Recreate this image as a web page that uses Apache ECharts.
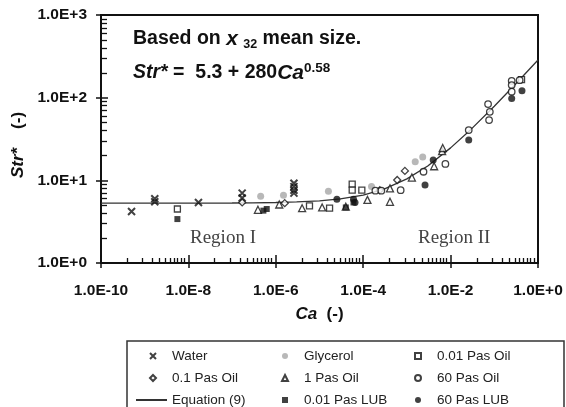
<!DOCTYPE html>
<html><head><meta charset="utf-8">
<script src="https://cdn.jsdelivr.net/npm/echarts@6/dist/echarts.min.js"></script>
<style>html,body{margin:0;padding:0;background:#fff}#c{width:566px;height:407px}</style>
</head><body><div id="c"></div>
<script>
// ---- tick values / labels ----
const xTickValues = [1e-10, 1e-8, 1e-6, 1e-4, 1e-2, 1];
const xTickLabels = ['1.0E-10', '1.0E-8', '1.0E-6', '1.0E-4', '1.0E-2', '1.0E+0'];
const xMinorMultipliers = [4, 9, 15, 22, 30, 38, 47, 57, 68, 80];
const yTickValues = [1, 10, 100, 1000];
const yTickLabels = ['1.0E+0', '1.0E+1', '1.0E+2', '1.0E+3'];
const yMinorMultipliers = [2, 3, 4, 5, 6, 7, 8, 9];

// ---- data: [Ca, Str*] ----
const water = [[5e-10, 4.2], [1.7e-9, 5.5], [1.7e-9, 6.0], [1.7e-8, 5.4], [1.7e-7, 7.0], [1.7e-7, 6.1],
  [2.6e-6, 9.2], [2.6e-6, 8.4], [2.6e-6, 7.6], [2.6e-6, 7.0]];
const glycerol = [[4.5e-7, 6.4], [1.5e-6, 6.6], [1.6e-5, 7.4], [1.55e-4, 8.4], [1.55e-3, 16.8], [2.3e-3, 19.2]];
const oil001 = [[5.6e-9, 4.5], [5.9e-6, 4.9], [1.7e-5, 4.6], [5.6e-5, 9.0], [5.6e-5, 7.6], [9.3e-5, 7.6], [0.42, 165]];
const oil01 = [[1.7e-7, 5.4], [1.6e-6, 5.3], [2.4e-4, 7.6], [6e-4, 10.1], [9e-4, 13.0]];
const oil1 = [[3.9e-7, 4.4], [1.2e-6, 5.1], [4e-6, 4.6], [1.15e-5, 4.7], [4e-5, 4.8], [1.25e-4, 5.8],
  [4.1e-4, 5.5], [4.1e-4, 8.0], [1.3e-3, 10.8], [4.2e-3, 14.8], [6.4e-3, 22.5], [6.6e-3, 24.6]];
const oil60 = [[1.9e-4, 7.5], [2.6e-4, 7.5], [7.2e-4, 7.6], [2.4e-3, 12.7], [7.6e-3, 15.8], [0.026, 40.6],
  [0.072, 83.7], [0.079, 67.5], [0.076, 53.6], [0.25, 160], [0.25, 142], [0.25, 118], [0.38, 163]];
const lub001 = [[5.6e-9, 3.4], [5.2e-7, 4.3], [6.2e-7, 4.5], [4e-5, 4.7], [6e-5, 5.4]];
const lub60 = [[2.5e-5, 5.9], [6e-5, 5.9], [6.5e-5, 5.4], [2.6e-3, 8.8], [4e-3, 17.6], [0.026, 30.7], [0.25, 98], [0.43, 121]];
const eqCa = [1e-10, 1e-8, 1e-7, 3e-7, 1e-6, 3e-6, 1e-5, 3e-5, 1e-4, 3e-4, 1e-3, 3e-3, 1e-2, 3e-2, 1e-1, 3e-1, 1];
const eqStr = [5.30, 5.31, 5.32, 5.35, 5.39, 5.48, 5.65, 5.97, 6.64, 7.84, 10.4, 14.9, 24.7, 41.9, 78.9, 144.5, 285];
const regionBoundaryCa = 1e-4;

const xMinor = [];
for (let i = 0; i < xTickValues.length - 1; i++) xMinorMultipliers.forEach(m => xMinor.push(xTickValues[i] * m));
const yMinor = [];
for (let i = 0; i < yTickValues.length - 1; i++) yMinorMultipliers.forEach(m => yMinor.push(yTickValues[i] * m));

const FONT = 'Liberation Sans';
const INK = '#111';
const openStyle = { color: '#fff', borderColor: INK, borderWidth: 1.3 };
const fillStyle = { color: INK };

function scatter(name, data, symbol, size, style) {
  return { type: 'scatter', name, data, symbol, symbolSize: size, itemStyle: style, z: 4, animation: false };
}
function xAx(extra) {
  return Object.assign({ type: 'log', logBase: 10, min: 1e-10, max: 1, position: 'bottom', gridIndex: 0,
    splitLine: { show: false }, minorTick: { show: false }, axisLabel: { show: false },
    axisLine: { show: false } }, extra);
}
function yAx(extra) {
  return Object.assign({ type: 'log', logBase: 10, min: 1, max: 1000, position: 'left', gridIndex: 0,
    splitLine: { show: false }, minorTick: { show: false }, axisLabel: { show: false },
    axisLine: { show: false } }, extra);
}
const legendBase = { orient: 'vertical', itemWidth: 6, itemHeight: 6, itemGap: 6, padding: 0, height: 80,
  selectedMode: false, textStyle: { fontFamily: FONT, fontSize: 13.5, color: '#222', lineHeight: 16, padding: [0, 0, 0, 11] } };

const chart = echarts.init(document.getElementById('c'), null, { renderer: 'canvas' });
chart.setOption({
  animation: false,
  backgroundColor: '#fff',
  grid: { left: 101, right: 28, top: 15, bottom: 144, show: true, borderColor: INK, borderWidth: 2, containLabel: false },
  title: [
    { text: 'Based on {x|x} {s|32} mean size.', left: 128, top: 22,
      textStyle: { fontFamily: FONT, fontSize: 19.5, fontWeight: 'bold', color: INK, lineHeight: 24,
        rich: { x: { fontFamily: FONT, fontSize: 21, fontStyle: 'italic', fontWeight: 'bold', color: INK, lineHeight: 24 },
                s: { fontFamily: FONT, fontSize: 12.5, fontWeight: 'bold', color: INK, lineHeight: 24, verticalAlign: 'bottom' } } } },
    { text: '{i|Str*} =  5.3 + 280{c|Ca}{p|0.58}', left: 128, top: 56,
      textStyle: { fontFamily: FONT, fontSize: 19.5, fontWeight: 'bold', color: INK, lineHeight: 24,
        rich: { i: { fontFamily: FONT, fontSize: 19.5, fontStyle: 'italic', fontWeight: 'bold', color: INK, lineHeight: 24 },
                c: { fontFamily: FONT, fontSize: 21, fontStyle: 'italic', fontWeight: 'bold', color: INK, lineHeight: 24 },
                p: { fontFamily: FONT, fontSize: 13.5, fontWeight: 'bold', color: INK, lineHeight: 24, verticalAlign: 'top' } } } },
    { text: 'Region I', left: 185, top: 224, textStyle: { fontFamily: 'Liberation Serif', fontSize: 19, fontWeight: 'normal', color: '#444' } },
    { text: 'Region II', left: 413, top: 224, textStyle: { fontFamily: 'Liberation Serif', fontSize: 19, fontWeight: 'normal', color: '#444' } }
  ],
  xAxis: [
    xAx({ axisLine: { show: true, lineStyle: { color: INK, width: 2 } },
      axisTick: { show: true, inside: false, length: 5, lineStyle: { color: INK, width: 1.5 }, customValues: xTickValues },
      axisLabel: { show: true, customValues: xTickValues, margin: 20, fontFamily: FONT, fontSize: 15.5, fontWeight: 'bold', color: INK,
        formatter: v => xTickLabels[xTickValues.findIndex(t => Math.abs(Math.log10(t) - Math.log10(v)) < 1e-6)] },
      name: '{i|Ca}  (-)', nameLocation: 'middle', nameGap: 43,
      nameTextStyle: { fontFamily: FONT, fontSize: 17, fontWeight: 'bold', color: INK,
        rich: { i: { fontFamily: FONT, fontSize: 17, fontWeight: 'bold', fontStyle: 'italic', color: INK } } } }),
    xAx({ axisTick: { show: true, inside: true, length: 8, lineStyle: { color: INK, width: 1.5 }, customValues: xTickValues } }),
    xAx({ axisTick: { show: true, inside: true, length: 5, lineStyle: { color: INK, width: 1.3 }, customValues: xMinor } })
  ],
  yAxis: [
    yAx({ axisLine: { show: true, lineStyle: { color: INK, width: 2 } },
      axisTick: { show: true, inside: false, length: 5, lineStyle: { color: INK, width: 1.5 }, customValues: yTickValues },
      axisLabel: { show: true, customValues: yTickValues, margin: 14, fontFamily: FONT, fontSize: 15.5, fontWeight: 'bold', color: INK,
        formatter: v => yTickLabels[yTickValues.findIndex(t => Math.abs(Math.log10(t) - Math.log10(v)) < 1e-6)] },
      name: '{i|Str*}    (-)', nameLocation: 'middle', nameGap: 70, nameRotate: 90,
      nameTextStyle: { fontFamily: FONT, fontSize: 17, fontWeight: 'bold', color: INK, padding: [0, 12, 0, 0],
        rich: { i: { fontFamily: FONT, fontSize: 17, fontWeight: 'bold', fontStyle: 'italic', color: INK } } } }),
    yAx({ axisTick: { show: true, inside: true, length: 7, lineStyle: { color: INK, width: 1.5 }, customValues: yTickValues } }),
    yAx({ axisTick: { show: true, inside: true, length: 6, lineStyle: { color: INK, width: 1.3 }, customValues: yMinor } })
  ],
  legend: [
    Object.assign({}, legendBase, { data: ['Water', '0.1 Pas Oil'], left: 149, top: 348 }),
    Object.assign({}, legendBase, { data: [{ name: 'Equation (9)', itemStyle: { opacity: 0 } }], left: 135, top: 392,
      itemWidth: 31, itemHeight: 2, textStyle: Object.assign({}, legendBase.textStyle, { padding: [0, 0, 0, 0] }) }),
    Object.assign({}, legendBase, { data: ['Glycerol', '1 Pas Oil', '0.01 Pas LUB'], left: 281, top: 348 }),
    Object.assign({}, legendBase, { data: ['0.01 Pas Oil', '60 Pas Oil', '60 Pas LUB'], left: 414, top: 348 })
  ],
  graphic: [
    { type: 'rect', shape: { x: 127, y: 341, width: 437, height: 80 }, style: { fill: 'none', stroke: '#333', lineWidth: 1.5 }, silent: true }
  ],
  series: [
    { type: 'line', name: 'Equation (9)', data: eqCa.map((c, i) => [c, eqStr[i]]), symbol: 'none', smooth: false,
      lineStyle: { color: '#333', width: 1.3 }, itemStyle: { color: '#333' }, z: 2,
      markLine: { silent: true, symbol: 'none', label: { show: false },
        lineStyle: { color: INK, type: [4, 3], width: 1.3 }, data: [{ xAxis: regionBoundaryCa }] } },
    scatter('Water', water, 'path://M0,0L10,10M10,0L0,10', 7, { color: 'transparent', borderColor: INK, borderWidth: 2 }),
    scatter('Glycerol', glycerol, 'circle', 7, { color: '#a6a6a6' }),
    scatter('0.01 Pas Oil', oil001, 'rect', 6, openStyle),
    scatter('0.1 Pas Oil', oil01, 'diamond', 7, openStyle),
    scatter('1 Pas Oil', oil1, 'triangle', 7, openStyle),
    scatter('60 Pas Oil', oil60, 'circle', 6.5, openStyle),
    scatter('0.01 Pas LUB', lub001, 'rect', 6, fillStyle),
    scatter('60 Pas LUB', lub60, 'circle', 7, fillStyle)
  ]
});
</script></body></html>
